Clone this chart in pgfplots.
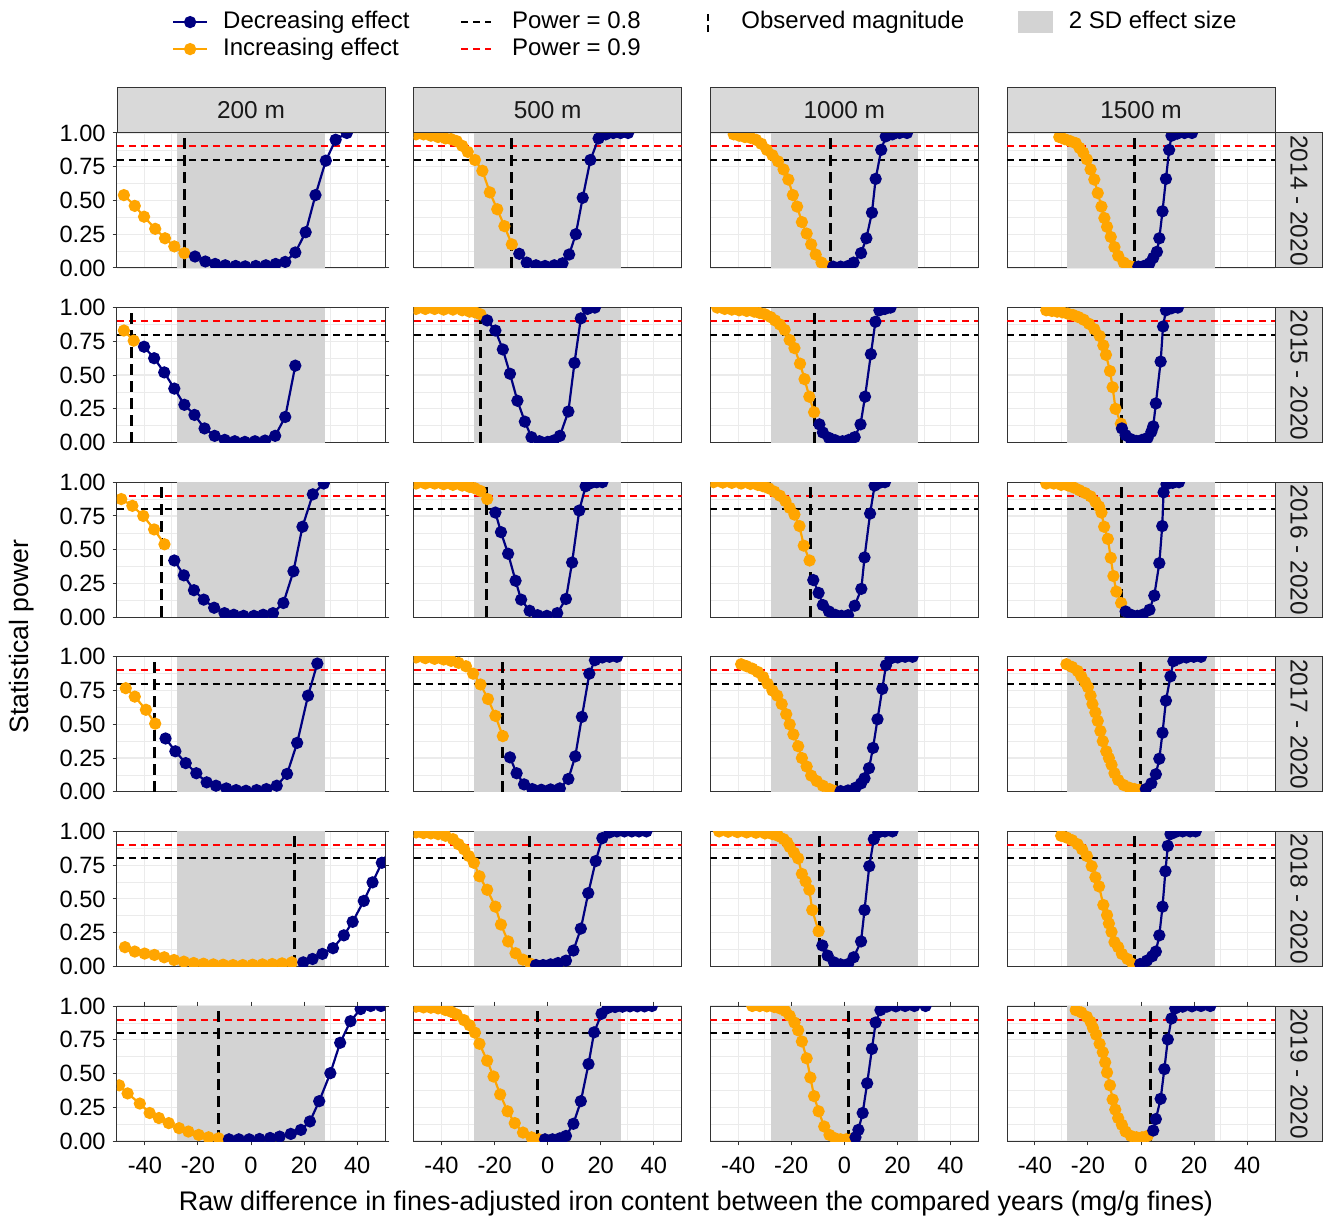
\documentclass[border=0pt]{standalone}
\usepackage{pgfplots}
\pgfplotsset{compat=1.18}
\usepackage{fontspec}
\setmainfont{Liberation Sans}
\definecolor{navyc}{HTML}{000080}
\definecolor{orangec}{HTML}{FFA500}
\definecolor{bandgrey}{HTML}{D3D3D3}
\definecolor{stripgrey}{HTML}{D9D9D9}
\definecolor{gridc}{HTML}{EBEBEB}
\definecolor{borderc}{HTML}{333333}
\pgfplotsset{
  panel/.style={
    scale only axis, width=134pt, height=67.5pt, anchor=north west,
    xmin=-50.5, xmax=50.5, ymin=0, ymax=1,
    axis line style={draw=borderc, line width=0.5pt},
    xtick={-40,-20,0,20,40}, ytick={0,0.25,0.5,0.75,1},
    minor xtick={-30,-10,10,30}, minor ytick={0.125,0.375,0.625,0.875},
    grid=both,
    major grid style={draw=gridc, line width=0.6pt},
    minor grid style={draw=gridc, line width=0.3pt},
    xticklabels={}, yticklabels={},
    xtick style={draw=none}, ytick style={draw=none},
    minor tick length=0pt, major tick length=2.2pt, tick align=outside,
    ticklabel style={font=\fontsize{11.8}{13}\selectfont, text=black},
    xticklabel style={yshift=-2.5pt},
    clip marker paths=true,
    every axis title shift=0pt,
    title style={at={(0.5,1)}, anchor=south, fill=stripgrey, draw=borderc, line width=0.5pt, minimum width=134pt, minimum height=22.5pt, inner sep=0pt, font=\fontsize{12.2}{14}\selectfont, text=black!90},
  },
  leftcol/.style={yticklabels={0.00,0.25,0.50,0.75,1.00}, ytick style={draw=borderc, line width=0.5pt}},
  botrow/.style={xticklabels={-40,-20,0,20,40}, xtick style={draw=borderc, line width=0.5pt}},
  rstrip/.style={after end axis/.append code={\node[rotate=-90, anchor=south, fill=stripgrey, draw=borderc, line width=0.5pt, minimum width=67.5pt, minimum height=23.5pt, inner sep=0pt, font=\fontsize{12.2}{14}\selectfont, text=black!90] at (rel axis cs:1,0.5) {#1};}},
  oser/.style={orangec, line width=1.1pt, mark=*, mark size=2.5pt},
  nser/.style={navyc, line width=1.1pt, mark=*, mark size=2.5pt},
  hdash/.style={line width=1pt, dash pattern=on 3.5pt off 2.5pt},
  vdash/.style={black, line width=1.45pt, dash pattern=on 5.5pt off 3pt},
  legaxis/.style={hide axis, scale only axis, width=1pt, height=1pt, anchor=north west, xmin=0,xmax=1,ymin=0,ymax=1,
    legend cell align=left,
    legend style={at={(0,1)}, anchor=north west, draw=none, fill=none, inner sep=0pt, outer sep=0pt, row sep=2pt, font=\fontsize{12}{14}\selectfont, nodes={inner sep=0pt, text height=9pt, text depth=2.5pt}}},
}
\newcommand{\panel}[5]{%
  \begin{axis}[panel, at={(#1)}, #2]
    \addplot[draw=none, fill=bandgrey] coordinates {(-27.8,1) (27.8,1)} \closedcycle;
    \addplot[red, hdash] coordinates {(-50.5,0.9) (50.5,0.9)};
    \addplot[black, hdash] coordinates {(-50.5,0.8) (50.5,0.8)};
    \addplot[vdash] coordinates {(#3,0) (#3,1)};
    \addplot[oser] coordinates {#4};
    \addplot[nser] coordinates {#5};
  \end{axis}}
\begin{document}
\begin{tikzpicture}
\useasboundingbox (0,0) rectangle (661.5pt,-609pt);
% ---------------- legend ----------------
\begin{axis}[legaxis, at={(86pt,-5.3pt)}, legend style={column sep=7.5pt}]
\addlegendimage{navyc, line width=1.1pt, mark=*, mark size=2.5pt, legend image code/.code={\draw[mark repeat=2, mark phase=2] plot coordinates {(0pt,0pt) (8.5pt,0pt) (17pt,0pt)};}}
\addlegendentry{Decreasing effect}
\addlegendimage{orangec, line width=1.1pt, mark=*, mark size=2.5pt, legend image code/.code={\draw[mark repeat=2, mark phase=2] plot coordinates {(0pt,0pt) (8.5pt,0pt) (17pt,0pt)};}}
\addlegendentry{Increasing effect}
\end{axis}
\begin{axis}[legaxis, at={(230pt,-5.3pt)}, legend style={column sep=10pt}]
\addlegendimage{black, hdash, legend image code/.code={\draw (0pt,0pt) -- (15pt,0pt);}}
\addlegendentry{Power = 0.8}
\addlegendimage{red, hdash, legend image code/.code={\draw (0pt,0pt) -- (15pt,0pt);}}
\addlegendentry{Power = 0.9}
\end{axis}
\begin{axis}[legaxis, at={(353.5pt,-5.3pt)}, legend style={column sep=16pt}]
\addlegendimage{black, line width=1.2pt, dash pattern=on 3.5pt off 2pt, legend image code/.code={\draw (0pt,-5pt) -- (0pt,5pt);}}
\addlegendentry{Observed magnitude}
\end{axis}
\begin{axis}[legaxis, at={(509pt,-5.3pt)}, legend style={column sep=8pt}]
\addlegendimage{legend image code/.code={\fill[bandgrey] (0pt,-5.25pt) rectangle (17pt,5.25pt);}}
\addlegendentry{2 SD effect size}
\end{axis}
% ---------------- row 1: 2014 - 2020 ----------------
\panel{58.5pt,-66.5pt}{leftcol, title={200 m}}{-25.0}
{(-47.9,0.54) (-43.8,0.46) (-40.3,0.38) (-36.1,0.29) (-32.4,0.22) (-28.9,0.16) (-25.1,0.11)}
{(-21.1,0.085) (-17.2,0.048) (-13.5,0.03) (-9.7,0.02) (-5.8,0.015) (-2.2,0.012) (1.8,0.015) (5.6,0.02) (9.3,0.03) (12.9,0.045) (16.7,0.115) (20.6,0.265) (24.3,0.54) (28.2,0.795) (31.9,0.95) (36.1,1.0)}
\panel{206.83pt,-66.5pt}{title={500 m}}{-13.75}
{(-49.6,0.99) (-46.8,0.99) (-44.0,0.98) (-41.3,0.97) (-38.5,0.96) (-36.4,0.955) (-34.3,0.94) (-32.2,0.905) (-30.1,0.86) (-27.4,0.80) (-24.6,0.72) (-21.8,0.56) (-19.0,0.435) (-16.3,0.31) (-13.5,0.175)}
{(-10.7,0.105) (-7.9,0.04) (-4.4,0.02) (-1.0,0.015) (2.5,0.02) (5.6,0.035) (8.1,0.10) (10.6,0.25) (13.2,0.52) (16.1,0.80) (19.2,0.96) (21.9,0.99) (24.7,1.0) (27.5,1.0) (30.3,1.0)}
\panel{355.17pt,-66.5pt}{title={1000 m}}{-5.1}
{(-41.7,0.99) (-39.6,0.98) (-37.5,0.97) (-35.4,0.965) (-33.3,0.95) (-31.3,0.92) (-29.2,0.875) (-27.1,0.835) (-25,0.79) (-22.9,0.73) (-21.1,0.655) (-19.4,0.54) (-17.8,0.455) (-16.0,0.34) (-14.2,0.255) (-12.5,0.175) (-10.8,0.10) (-8.6,0.04) (-6.3,0.01)}
{(-4.2,0.01) (-1.4,0.01) (1.4,0.015) (3.5,0.04) (6.3,0.11) (8.3,0.22) (10.4,0.41) (11.8,0.66) (13.9,0.875) (15.6,0.975) (18.1,0.99) (20.8,1.0) (23.6,1.0)}
\panel{503.5pt,-66.5pt}{title={1500 m}, rstrip={2014 - 2020}}{-2.6}
{(-30.8,0.97) (-28.8,0.955) (-26.7,0.94) (-24.6,0.925) (-23.2,0.89) (-21.8,0.855) (-20.4,0.805) (-19.0,0.73) (-17.6,0.655) (-16.3,0.555) (-14.9,0.455) (-13.8,0.37) (-12.8,0.305) (-11.4,0.23) (-10.0,0.155) (-8.6,0.09) (-6.5,0.04) (-4.4,0.015) (-2.8,0.005)}
{(-1.0,0.01) (1.1,0.015) (3.2,0.035) (4.6,0.075) (6.0,0.12) (6.9,0.22) (8.1,0.42) (9.4,0.66) (10.6,0.875) (11.5,0.98) (13.6,0.995) (16.4,1.0) (19.2,1.0)}
% ---------------- row 2: 2015 - 2020 ----------------
\panel{58.5pt,-153.8pt}{leftcol}{-44.9}
{(-47.9,0.83) (-44.2,0.755)}
{(-40.3,0.71) (-36.5,0.625) (-32.7,0.52) (-28.9,0.40) (-25.1,0.28) (-21.3,0.205) (-17.5,0.105) (-13.7,0.05) (-9.9,0.02) (-6.1,0.01) (-2.3,0.005) (1.5,0.01) (5.3,0.015) (9.1,0.05) (12.9,0.19) (16.7,0.57)}
\panel{206.83pt,-153.8pt}{}{-25.3}
{(-49.6,0.99) (-46.1,0.99) (-42.6,0.99) (-39.2,0.985) (-35.7,0.985) (-32.2,0.98) (-29.4,0.97) (-27.4,0.965) (-25.3,0.95)}
{(-22.8,0.905) (-19.7,0.83) (-16.9,0.69) (-14.2,0.51) (-11.4,0.31) (-8.6,0.155) (-6.1,0.04) (-3.1,0.01) (0,0.005) (2.2,0.015) (4.6,0.05) (7.8,0.23) (10.1,0.59) (12.5,0.92) (15,0.99) (17.8,1.0)}
\panel{355.17pt,-153.8pt}{}{-11.4}
{(-47.9,1.0) (-45.1,0.99) (-42.4,0.985) (-39.6,0.98) (-36.8,0.975) (-34.0,0.97) (-31.9,0.96) (-29.9,0.95) (-27.8,0.93) (-26.1,0.905) (-24.3,0.875) (-22.5,0.835) (-20.6,0.76) (-18.8,0.70) (-16.7,0.585) (-15.0,0.47) (-13.2,0.34) (-11.4,0.225)}
{(-9.4,0.135) (-8.1,0.075) (-5.8,0.035) (-3.5,0.018) (-0.7,0.01) (1.7,0.02) (3.9,0.04) (6.1,0.135) (7.8,0.34) (10,0.655) (11.7,0.895) (13.2,0.98) (15.3,0.99) (17.4,1.0)}
\panel{503.5pt,-153.8pt}{rstrip={2015 - 2020}}{-7.5}
{(-35.7,0.98) (-33.6,0.975) (-31.6,0.97) (-29.6,0.965) (-27.6,0.955) (-25.6,0.945) (-23.6,0.93) (-21.6,0.91) (-19.6,0.88) (-17.6,0.84) (-15.6,0.79) (-14.2,0.72) (-13.2,0.65) (-11.7,0.53) (-10.7,0.41) (-9.6,0.25) (-7.6,0.14)}
{(-7.2,0.105) (-5.8,0.055) (-3.8,0.025) (-1.7,0.012) (0.4,0.02) (2.5,0.035) (3.9,0.08) (4.6,0.12) (5.6,0.29) (7.4,0.6) (8.3,0.86) (9.4,0.98) (11.5,0.995) (13.9,1.0)}
% ---------------- row 3: 2016 - 2020 ----------------
\panel{58.5pt,-241.1pt}{leftcol}{-33.75}
{(-48.9,0.875) (-44.7,0.825) (-40.6,0.75) (-36.5,0.65) (-32.6,0.54)}
{(-28.9,0.42) (-25.3,0.31) (-21.5,0.2) (-17.8,0.13) (-13.9,0.07) (-10,0.03) (-6.5,0.018) (-2.8,0.01) (1.1,0.01) (4.6,0.018) (8.3,0.03) (12.2,0.105) (16,0.34) (19.4,0.67) (23.3,0.91) (27.4,0.99)}
\panel{206.83pt,-241.1pt}{}{-23.2}
{(-49.6,0.99) (-46.1,0.99) (-42.6,0.99) (-39.2,0.985) (-35.7,0.98) (-32.2,0.975) (-29.4,0.965) (-27.4,0.955) (-25.3,0.935) (-22.8,0.875)}
{(-19.7,0.775) (-17.6,0.63) (-14.9,0.47) (-12.1,0.27) (-10,0.13) (-6.8,0.0475) (-3.8,0.015) (-0.3,0.01) (3.6,0.03) (6.9,0.135) (9.2,0.405) (11.9,0.79) (14.3,0.97) (16.4,0.995) (18.5,1.0) (20.6,1.0)}
\panel{355.17pt,-241.1pt}{}{-12.8}
{(-49.3,1.0) (-45.8,0.997) (-42.4,0.995) (-38.9,0.99) (-35.4,0.987) (-32.6,0.98) (-30.6,0.97) (-28.5,0.955) (-26.4,0.93) (-24.3,0.9) (-22.2,0.86) (-20.6,0.81) (-18.8,0.76) (-16.9,0.675) (-15.3,0.53) (-13.1,0.42)}
{(-11.7,0.275) (-9.7,0.18) (-8.1,0.09) (-5.8,0.0425) (-3.5,0.018) (-1.1,0.01) (1.4,0.015) (3.9,0.085) (6.4,0.21) (7.6,0.4425) (9.7,0.7675) (11.4,0.975) (13.2,0.995) (15.3,1.0)}
\panel{503.5pt,-241.1pt}{rstrip={2016 - 2020}}{-7.2}
{(-35.7,0.99) (-32.9,0.99) (-30.1,0.98) (-27.4,0.975) (-25.3,0.96) (-23.2,0.94) (-21.1,0.92) (-19.0,0.895) (-17.2,0.855) (-15.8,0.82) (-14.9,0.775) (-13.9,0.67) (-12.5,0.58) (-11.4,0.44) (-10.4,0.305) (-9.3,0.19) (-7.5,0.105)}
{(-5.8,0.0425) (-3.8,0.018) (-1.4,0.01) (0.8,0.02) (3.2,0.055) (5.0,0.16) (6.9,0.4) (8.0,0.675) (8.5,0.925) (9.6,0.985) (11.9,0.995) (14.3,1.0)}
% ---------------- row 4: 2017 - 2020 ----------------
\panel{58.5pt,-328.4pt}{leftcol}{-36.4}
{(-47.2,0.7675) (-43.8,0.705) (-39.6,0.6075) (-36.1,0.505)}
{(-32.2,0.395) (-28.5,0.3) (-24.6,0.2125) (-20.6,0.1375) (-16.7,0.07) (-13.2,0.045) (-9.3,0.025) (-5.6,0.0125) (-1.9,0.0075) (2.1,0.0125) (5.8,0.02) (9.7,0.045) (13.6,0.1325) (17.4,0.3625) (21.5,0.7125) (25,0.95)}
\panel{206.83pt,-328.4pt}{}{-16.9}
{(-49.6,0.995) (-46.1,0.99) (-42.6,0.985) (-39.2,0.98) (-36.4,0.97) (-33.6,0.955) (-30.8,0.93) (-28.1,0.875) (-25.3,0.795) (-22.5,0.6875) (-19.7,0.5625) (-16.9,0.4125)}
{(-14.2,0.255) (-11.7,0.1375) (-8.9,0.055) (-5.8,0.02) (-2.4,0.015) (1.1,0.0175) (4.6,0.025) (7.8,0.095) (10.4,0.2625) (12.9,0.555) (15.7,0.875) (17.8,0.975) (20.6,0.995) (23.3,1.0) (26.1,1.0)}
\panel{355.17pt,-328.4pt}{}{-3.1}
{(-38.9,0.945) (-36.8,0.93) (-34.7,0.9125) (-32.6,0.8875) (-30.6,0.85) (-28.9,0.8) (-27.1,0.75) (-25.3,0.7125) (-23.6,0.65) (-21.9,0.575) (-20.6,0.5) (-19.2,0.425) (-17.4,0.3375) (-16.0,0.25) (-14.2,0.1875) (-12.5,0.12) (-10.4,0.08) (-8.1,0.045) (-5.6,0.02) (-3.5,0.005)}
{(-1.4,0.005) (1.4,0.01) (4.2,0.03) (6.3,0.0625) (7.6,0.1) (9.3,0.175) (10.8,0.325) (12.5,0.5375) (14.3,0.7625) (15.7,0.9375) (17.4,0.9875) (20.1,0.995) (22.9,1.0) (25.7,1.0)}
\panel{503.5pt,-328.4pt}{rstrip={2017 - 2020}}{-0.3}
{(-28.1,0.945) (-26.0,0.925) (-23.9,0.895) (-22.5,0.855) (-21.1,0.8125) (-20.0,0.775) (-19.0,0.7125) (-18.3,0.65) (-17.2,0.5875) (-16.3,0.525) (-15.3,0.45) (-14.4,0.375) (-13.1,0.3) (-12.1,0.25) (-11.1,0.2) (-10,0.1375) (-8.6,0.0875) (-6.5,0.05) (-4.4,0.03) (-2.4,0.02) (-0.6,0.015)}
{(1.8,0.02) (3.9,0.0625) (5.6,0.13) (6.9,0.245) (8.1,0.4375) (9.4,0.675) (11.1,0.855) (12.2,0.9675) (14.3,0.9875) (17.1,0.995) (19.9,1.0) (22.6,1.0)}
% ---------------- row 5: 2018 - 2020 ----------------
\panel{58.5pt,-415.7pt}{leftcol}{16.25}
{(-47.5,0.1425) (-43.8,0.11) (-40.1,0.095) (-36.4,0.085) (-32.7,0.0675) (-29.0,0.0475) (-25.3,0.035) (-21.6,0.025) (-17.9,0.02) (-14.2,0.015) (-10.5,0.0125) (-6.8,0.01) (-3.1,0.01) (0.6,0.0125) (4.3,0.015) (8.0,0.0175) (11.7,0.0225) (15.4,0.03)}
{(19.7,0.03) (23.2,0.055) (26.9,0.0925) (30.9,0.135) (35,0.23) (38.3,0.33) (42.5,0.485) (45.8,0.6225) (49.3,0.7675) (53,0.88)}
\panel{206.83pt,-415.7pt}{}{-6.8}
{(-49.6,0.9925) (-46.8,0.9875) (-44.0,0.985) (-41.3,0.98) (-38.5,0.9675) (-35.7,0.9425) (-33.6,0.905) (-31.5,0.8675) (-29.7,0.8175) (-27.8,0.7675) (-25.7,0.6675) (-22.8,0.5675) (-19.7,0.4425) (-17.6,0.31) (-14.9,0.185) (-12.1,0.0975) (-9.3,0.05) (-6.5,0.02)}
{(-4.4,0.01) (-1.7,0.01) (1.1,0.015) (3.9,0.025) (6.9,0.0425) (9.7,0.1175) (12.5,0.28) (15.3,0.5425) (18.1,0.78) (20.6,0.95) (23.3,0.9925) (26.1,1.0) (28.9,1.0) (31.7,1.0) (34.4,1.0) (37.2,1.0)}
\panel{355.17pt,-415.7pt}{}{-9.4}
{(-47.2,1.0) (-43.8,0.9975) (-40.3,0.995) (-36.8,0.9925) (-33.3,0.99) (-29.9,0.985) (-27.1,0.98) (-25,0.9675) (-22.9,0.9425) (-21.5,0.9175) (-20.6,0.885) (-19.0,0.8425) (-17.4,0.8) (-16,0.685) (-14.6,0.63) (-13.2,0.5675) (-12.1,0.4175) (-9.7,0.26)}
{(-8.3,0.155) (-6.3,0.08) (-3.9,0.03) (-1.4,0.015) (1.4,0.0175) (3.5,0.0675) (6.3,0.185) (7.6,0.4175) (9.4,0.7425) (11.1,0.9425) (12.8,0.9925) (15.3,1.0) (18.1,1.0)}
\panel{503.5pt,-415.7pt}{rstrip={2018 - 2020}}{-2.6}
{(-30.1,0.9675) (-28.1,0.955) (-26.0,0.935) (-23.9,0.905) (-22.2,0.8675) (-20.4,0.8175) (-18.6,0.7425) (-17.2,0.66) (-15.8,0.5925) (-14.2,0.455) (-12.8,0.38) (-12.1,0.3175) (-11.1,0.255) (-10,0.18) (-8.6,0.1425) (-7.2,0.0925) (-5.1,0.055) (-3.1,0.0175)}
{(-0.3,0.0175) (2.2,0.0425) (4.2,0.075) (5.6,0.11) (6.9,0.23) (8.1,0.4425) (9.2,0.705) (10.1,0.8925) (11.1,0.98) (12.9,0.995) (15.7,1.0) (18.5,1.0) (20.6,1.0)}
% ---------------- row 6: 2019 - 2020 ----------------
\panel{58.5pt,-503pt}{leftcol, botrow}{-12.2}
{(-53.5,0.48) (-49.7,0.4125) (-46.5,0.3525) (-41.9,0.2775) (-38.2,0.2075) (-34.7,0.17) (-31.0,0.1325) (-27.1,0.095) (-23.6,0.07) (-19.7,0.045) (-16.0,0.0275) (-12.2,0.02)}
{(-8.3,0.0125) (-4.6,0.0125) (-0.7,0.0125) (3.2,0.015) (7.2,0.0225) (10.8,0.0325) (15,0.0525) (18.8,0.0825) (22.2,0.145) (25.7,0.295) (29.9,0.5025) (33.6,0.7275) (37.5,0.8875) (41.3,0.9775) (45.1,1.0) (49.0,1.0)}
\panel{206.83pt,-503pt}{botrow}{-3.75}
{(-49.6,0.995) (-46.8,0.99) (-44.0,0.9875) (-41.3,0.9825) (-38.5,0.97) (-36.4,0.9575) (-34.3,0.9375) (-31.5,0.895) (-29.4,0.8575) (-27.4,0.8025) (-25.7,0.72) (-22.8,0.595) (-20.4,0.4775) (-17.9,0.345) (-15.1,0.22) (-12.4,0.1325) (-9.3,0.0625) (-6.1,0.0275) (-3.3,0.0125)}
{(-1.0,0.0125) (1.8,0.0125) (4.6,0.02) (6.9,0.0375) (9.7,0.1275) (12.5,0.295) (15.4,0.57) (17.5,0.805) (20.3,0.9425) (22.6,0.985) (25.4,0.9925) (28.2,0.995) (31.0,0.9975) (33.8,0.9975) (36.5,0.9975) (39.3,1.0)}
\panel{355.17pt,-503pt}{botrow}{1.7}
{(-34.7,1.0) (-31.9,1.0) (-29.2,0.9975) (-26.4,0.9925) (-24.3,0.9825) (-22.2,0.9625) (-20.6,0.9275) (-18.8,0.8775) (-17.4,0.82) (-16,0.7375) (-14.2,0.6125) (-12.8,0.47) (-11.4,0.3325) (-9.7,0.22) (-7.6,0.1075) (-5.6,0.045) (-3.5,0.02) (-1.4,0.0125) (0.7,0.0125) (2.5,0.0125)}
{(4.2,0.0275) (5.3,0.0825) (6.9,0.2075) (8.6,0.4275) (10.4,0.6825) (11.8,0.8775) (13.6,0.97) (16,0.995) (19.4,0.9975) (22.9,1.0) (26.4,1.0) (30.6,1.0)}
\panel{503.5pt,-503pt}{botrow, rstrip={2019 - 2020}}{3.5}
{(-24.6,0.97) (-22.5,0.9525) (-20.4,0.92) (-19.0,0.8825) (-18.1,0.8375) (-16.9,0.7875) (-15.6,0.72) (-14.4,0.6575) (-13.5,0.5825) (-12.8,0.5075) (-11.7,0.4125) (-10.7,0.3075) (-9.7,0.2325) (-8.6,0.17) (-7.2,0.12) (-5.8,0.07) (-3.8,0.0375) (-1.7,0.0275) (0.4,0.0275) (2.5,0.0375)}
{(4.6,0.0775) (5.6,0.1625) (7.4,0.3125) (8.8,0.5325) (10.1,0.7525) (11.5,0.9075) (12.9,0.9825) (15.7,0.995) (19.2,0.9975) (22.6,1.0) (26.1,1.0)}
% ---------------- axis titles ----------------
\node[rotate=90, font=\fontsize{13.3}{15}\selectfont, text=black] at (11pt,-318.3pt) {Statistical power};
\node[anchor=base, font=\fontsize{13.45}{15}\selectfont, text=black] at (348pt,-605.3pt) {Raw difference in fines-adjusted iron content between the compared years (mg/g fines)};
\end{tikzpicture}
\end{document}
